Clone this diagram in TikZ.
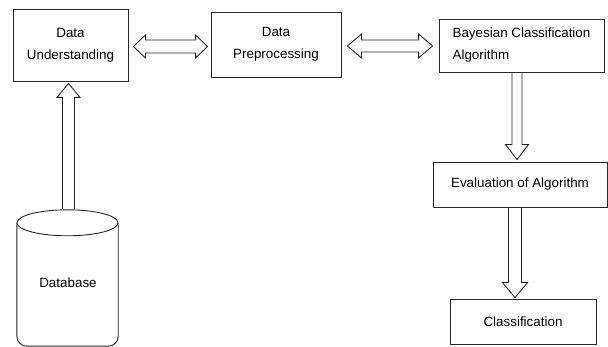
\documentclass[tikz,border=0pt]{standalone}
\usepackage{fontspec}
\setmainfont{Liberation Sans}
\usetikzlibrary{calc}
\tikzset{
  box/.style={draw=black!85, line width=0.9pt, rectangle, inner sep=0pt,
    font=\fontsize{13.4}{22}\selectfont, text=black},
  harrow/.style={draw=black!85, line width=0.9pt, line join=miter},
}
\begin{document}
\begin{tikzpicture}[x=1pt,y=1pt]
\useasboundingbox (0,0) rectangle (608,-347);
% boxes
\node[box, minimum width=115, minimum height=72, align=center] (du) at (70.5,-45) {Data\\Understanding};
\node[box, minimum width=130, minimum height=65, align=center] (dp) at (276,-44.5) {Data\\Preprocessing};
\node[box, minimum width=165, minimum height=53, align=left] (bc) at (521.5,-45.5) {Bayesian Classification\\Algorithm};
\node[box, minimum width=174, minimum height=45, align=center] (ev) at (520,-184.5) {Evaluation of Algorithm};
\node[box, minimum width=146, minimum height=45, align=center] (cl) at (523,-321.5) {Classification};
% database
\node[minimum width=101, minimum height=136, inner sep=0pt] (db) at (67.5,-278) {};
\node[font=\fontsize{13.4}{22}\selectfont, inner sep=0pt] (dbt) at (68,-283) {Database};
\draw[harrow] ($(db.north)+(0,-13)$) ellipse [x radius=50.5, y radius=13];
\draw[harrow, rounded corners=10] ($(db.west)+(0,54.5)$) -- (db.south west) -- (db.south east) -- ($(db.east)+(0,54.5)$);
% double arrow du <-> dp
\draw[harrow] let \p1=($(du.east)+(5,-1.5)$), \p2=($(dp.west)+(-3,0)$) in
  (\x1,\y1) -- (\x1+12pt,\y1+11.5pt) -- (\x1+12pt,\y1+6.5pt) -- (\x2-12pt,\y1+6.5pt) -- (\x2-12pt,\y1+11.5pt)
  -- (\x2,\y1) -- (\x2-12pt,\y1-11.5pt) -- (\x2-12pt,\y1-6.5pt) -- (\x1+12pt,\y1-6.5pt) -- (\x1+12pt,\y1-11.5pt) -- cycle;
% double arrow dp <-> bc
\draw[harrow] let \p1=($(dp.east)+(6,-1.5)$), \p2=($(bc.west)+(-6,0)$) in
  (\x1,\y1) -- (\x1+14pt,\y1+12pt) -- (\x1+14pt,\y1+6pt) -- (\x2-14pt,\y1+6pt) -- (\x2-14pt,\y1+12pt)
  -- (\x2,\y1) -- (\x2-14pt,\y1-12pt) -- (\x2-14pt,\y1-6pt) -- (\x1+14pt,\y1-6pt) -- (\x1+14pt,\y1-12pt) -- cycle;
% up arrow db -> du
\draw[harrow] let \p1=($(db.north)+(1,1)$), \p2=($(du.south)+(0,-2)$) in
  (\x1-6pt,\y1) -- (\x1-6pt,\y2-14pt) -- (\x1-11.5pt,\y2-14pt) -- (\x1,\y2) -- (\x1+11.5pt,\y2-14pt)
  -- (\x1+6pt,\y2-14pt) -- (\x1+6pt,\y1);
% down arrow bc -> ev
\draw[harrow] let \p1=($(bc.south)+(-4.5,0)$), \p2=($(ev.north)+(0,2)$) in
  (\x1-5pt,\y1) -- (\x1-5pt,\y2+15pt) -- (\x1-11.5pt,\y2+15pt) -- (\x1,\y2) -- (\x1+11.5pt,\y2+15pt)
  -- (\x1+5pt,\y2+15pt) -- (\x1+5pt,\y1);
% down arrow ev -> cl
\draw[harrow] let \p1=($(ev.south)+(-5,0)$), \p2=($(cl.north)+(0,1)$) in
  (\x1-6.5pt,\y1) -- (\x1-6.5pt,\y2+15pt) -- (\x1-12.5pt,\y2+15pt) -- (\x1,\y2) -- (\x1+12.5pt,\y2+15pt)
  -- (\x1+6.5pt,\y2+15pt) -- (\x1+6.5pt,\y1);
\end{tikzpicture}
\end{document}
